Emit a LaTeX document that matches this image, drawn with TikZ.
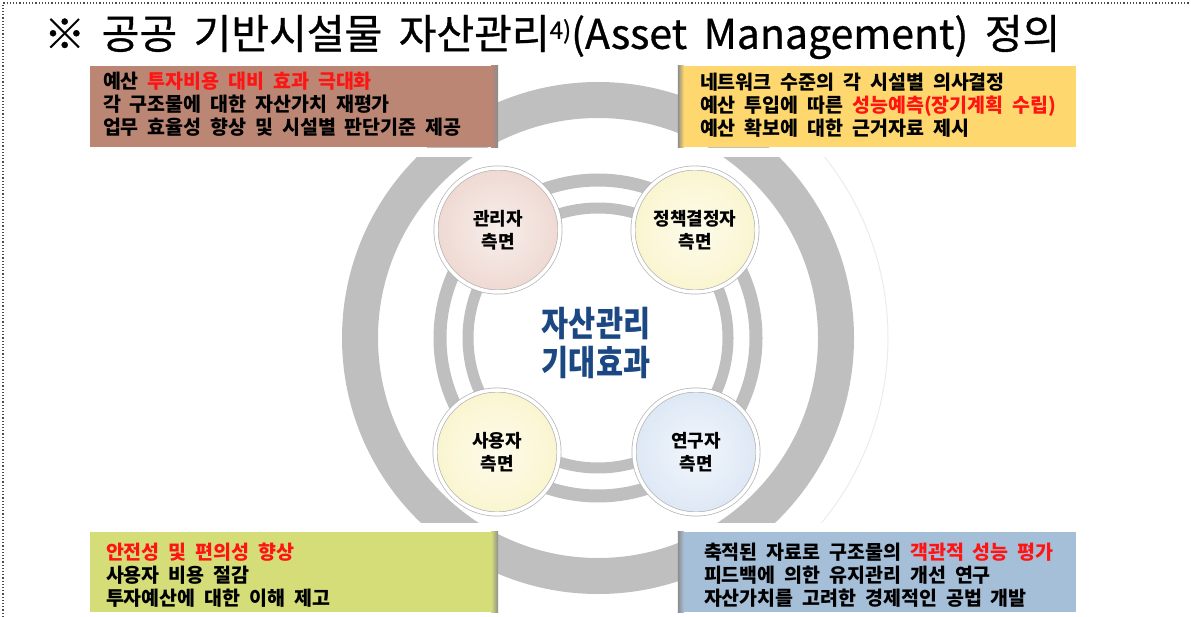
\documentclass[tikz,border=0pt]{standalone}
\usepackage{fontspec}
\setmainfont{Noto Sans CJK KR}[WordSpace=2.0]
\newfontfamily\titlefont{Noto Sans CJK KR}[WordSpace=1.8,FakeBold=0.8]
\usetikzlibrary{positioning}

\definecolor{ringgray}{HTML}{BFBFBF}
\definecolor{boxbrown}{HTML}{BB8674}
\definecolor{boxyellow}{HTML}{FED86E}
\definecolor{boxgreen}{HTML}{D4DD78}
\definecolor{boxblue}{HTML}{A6BFD8}
\definecolor{bubpink}{HTML}{EFD9D2}
\definecolor{bubyellow}{HTML}{FAF5CF}
\definecolor{bubblue}{HTML}{DDE8F5}
\definecolor{navy}{HTML}{1B4882}
\definecolor{hired}{HTML}{FF1414}

\begin{document}
\begin{tikzpicture}[x=1pt,y=-1pt,
	infobox/.style={rectangle,inner sep=0pt,minimum height=81pt},
	boxtext/.style={anchor=west,align=left,inner sep=0pt,font=\bfseries\fontsize{19.5}{23}\selectfont},
	bubble/.style={circle,minimum size=124pt,inner sep=0pt,draw=black!30,line width=0.7pt,double=white,double distance=3.5pt,
		align=center,font=\bfseries\fontsize{18}{23}\selectfont}]
	\useasboundingbox (0,0) rectangle (1191,617);
	\draw[dotted,line width=1.2pt,black!70] (3,617) -- (3,3) -- (1191,3);
	
	% rings
	\coordinate (c) at (598,338);
	\draw[ringgray,line width=36pt] (c) circle[radius=238pt];
	\draw[ringgray,line width=13pt] (c) circle[radius=158pt];
	\draw[ringgray,line width=11pt] (c) circle[radius=130pt];
	\draw[black!8,line width=1pt] (c) ++(-40:290pt) arc[start angle=-40,end angle=40,radius=290pt];
	\fill[white] (300,148) rectangle (900,157);
	\fill[white] (300,523) rectangle (900,532);
	
	% title
	\node[anchor=west,inner sep=0pt,font=\titlefont\fontsize{41}{41}\selectfont] (title) at (44,37)
		{※ 공공 기반시설물 자산관리\raisebox{10pt}{\fontsize{24}{24}\selectfont 4)}(Asset Management) 정의};
	
	% boxes
	\node[infobox,fill=boxbrown,minimum width=408pt] (mgrbox) at (294,106.5) {};
	\node[infobox,fill=boxyellow,minimum width=398pt] (polbox) at (877,106.5) {};
	\node[infobox,fill=boxgreen,minimum width=408pt,minimum height=80pt] (usrbox) at (294,572) {};
	\node[infobox,fill=boxblue,minimum width=398pt,minimum height=80pt] (resbox) at (877,572) {};
	\shade[left color=boxbrown,right color=black!45] ([xshift=-7]mgrbox.north east) rectangle (mgrbox.south east);
	\shade[left color=black!45,right color=boxyellow] (polbox.north west) rectangle ([xshift=6]polbox.south west);
	\shade[left color=boxgreen,right color=black!45] ([xshift=-7]usrbox.north east) rectangle (usrbox.south east);
	\shade[left color=black!45,right color=boxblue] (resbox.north west) rectangle ([xshift=6]resbox.south west);
	
	\node[boxtext] (mgrtext) at ([xshift=13,yshift=2.5]mgrbox.west)
		{예산 \textcolor{hired}{투자비용 대비 효과 극대화}\\각 구조물에 대한 자산가치 재평가\\업무 효율성 향상 및 시설별 판단기준 제공};
	\node[boxtext] (poltext) at ([xshift=22,yshift=1.5]polbox.west)
		{네트워크 수준의 각 시설별 의사결정\\예산 투입에 따른 \textcolor{hired}{성능예측(장기계획 수립)}\\예산 확보에 대한 근거자료 제시};
	\node[boxtext] (usrtext) at ([xshift=16,yshift=-3]usrbox.west)
		{\textcolor{hired}{안전성 및 편의성 향상}\\사용자 비용 절감\\투자예산에 대한 이해 제고};
	\node[boxtext] (restext) at ([xshift=26,yshift=-3]resbox.west)
		{축적된 자료로 구조물의 \textcolor{hired}{객관적 성능 평가}\\피드백에 의한 유지관리 개선 연구\\자산가치를 고려한 경제적인 공법 개발};
	
	% bubbles
	\node[bubble,inner color=white!55!bubpink,outer color=bubpink] (mgr) at (498,230) {관리자\\측면};
	\node[bubble,inner color=white!60!bubyellow,outer color=bubyellow] (pol) at (695,230) {정책결정자\\측면};
	\node[bubble,inner color=white!60!bubyellow,outer color=bubyellow] (usr) at (497,452) {사용자\\측면};
	\node[bubble,inner color=white!60!bubblue,outer color=bubblue] (res) at (696,452) {연구자\\측면};
	
	\node[align=center,text=navy,font=\bfseries\fontsize{31}{34}\selectfont,xscale=0.95,yscale=1.12,transform shape] (center) at (596,343) {자산관리\\기대효과};
\end{tikzpicture}
\end{document}
